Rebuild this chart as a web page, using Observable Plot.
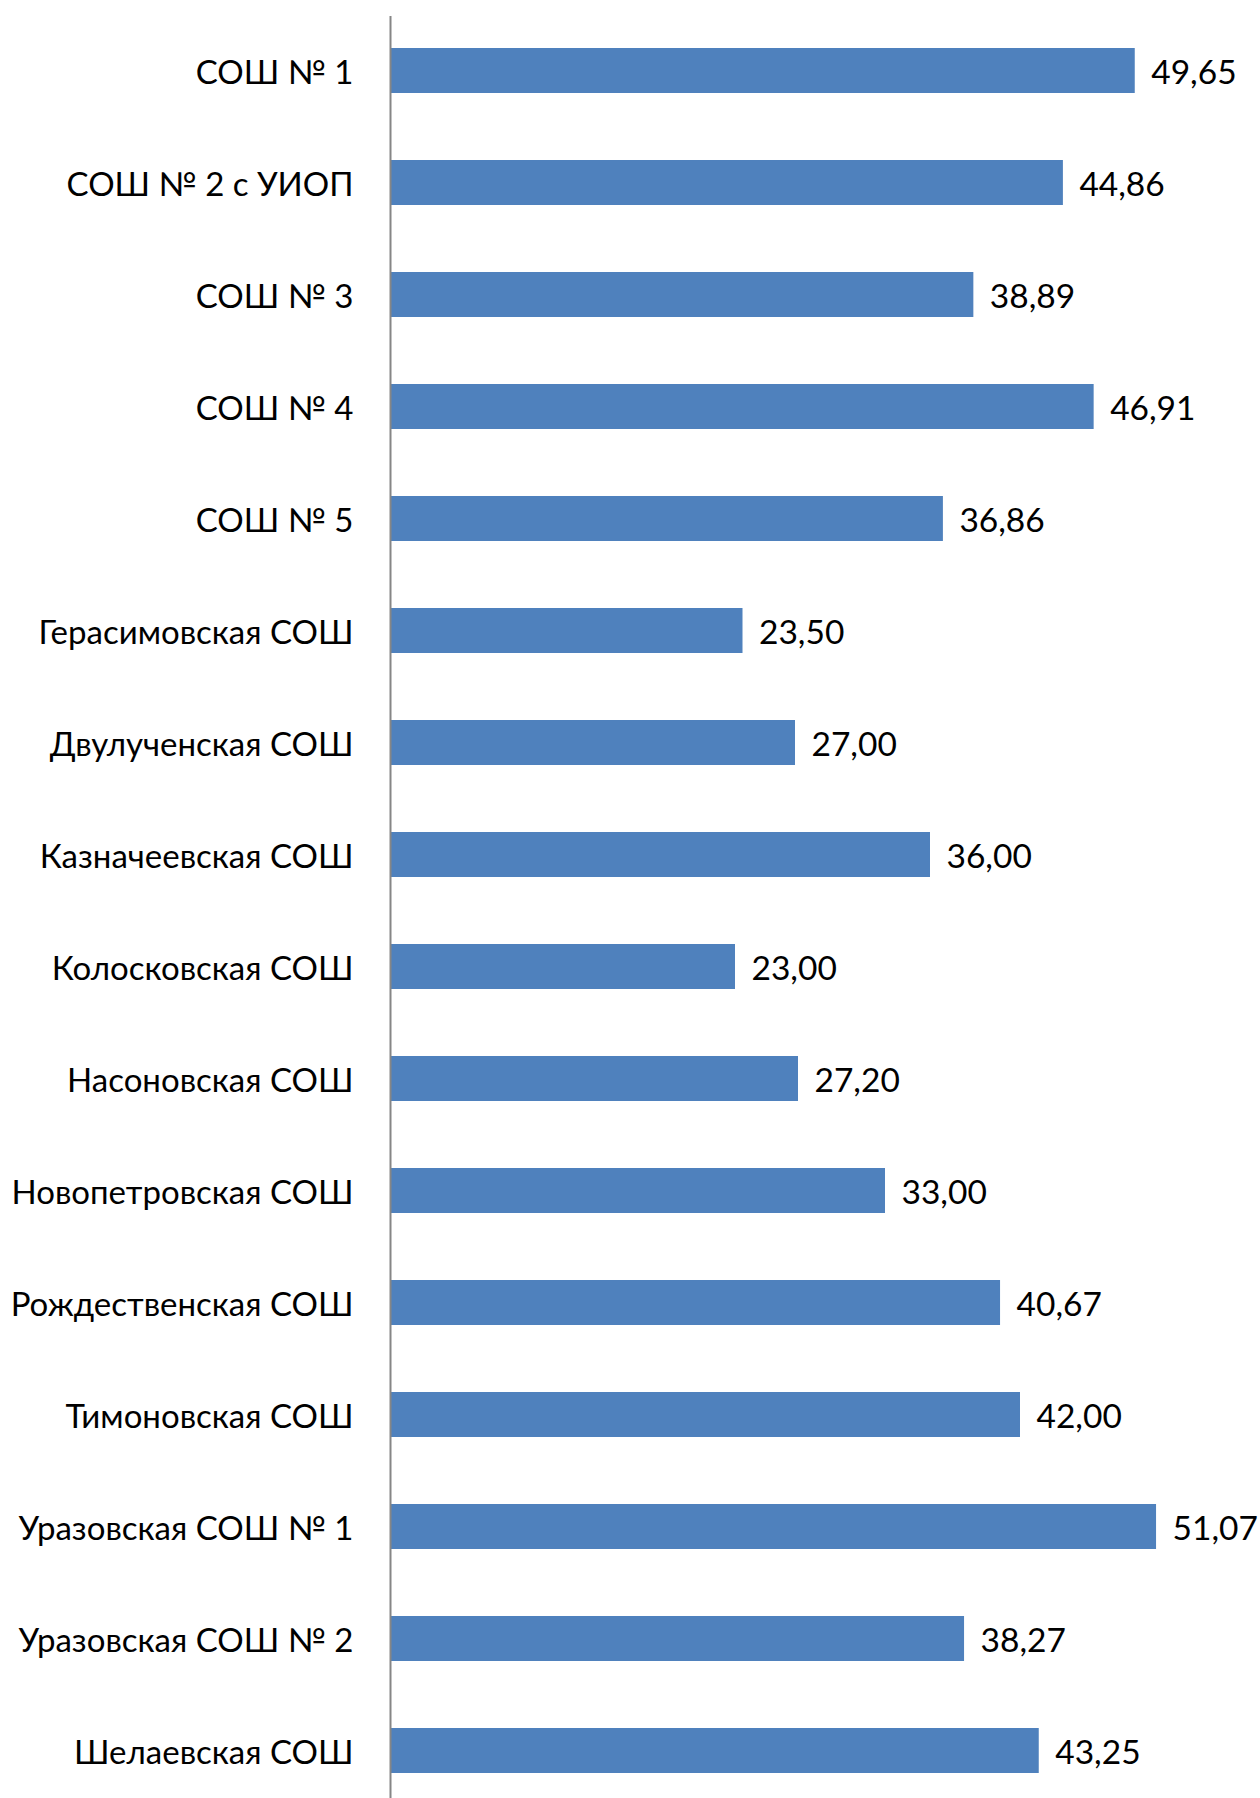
<!DOCTYPE html>
<html><head><meta charset="utf-8">
<script src="https://cdn.jsdelivr.net/npm/d3@7"></script>
<script src="https://cdn.jsdelivr.net/npm/@observablehq/plot@0.6"></script>
<style>body{margin:0;background:#fff}</style>
</head><body><div id="chart"></div>
<script>
const schools = [
  "СОШ № 1",
  "СОШ № 2 с УИОП",
  "СОШ № 3",
  "СОШ № 4",
  "СОШ № 5",
  "Герасимовская СОШ",
  "Двулученская СОШ",
  "Казначеевская СОШ",
  "Колосковская СОШ",
  "Насоновская СОШ",
  "Новопетровская СОШ",
  "Рождественская СОШ",
  "Тимоновская СОШ",
  "Уразовская СОШ № 1",
  "Уразовская СОШ № 2",
  "Шелаевская СОШ"
];
const values = [49.65, 44.86, 38.89, 46.91, 36.86, 23.50, 27.00, 36.00, 23.00, 27.20, 33.00, 40.67, 42.00, 51.07, 38.27, 43.25];

const data = schools.map((s, i) => ({school: s, value: values[i]}));
const fmt = v => v.toFixed(2).replace(".", ",");

const chart = Plot.plot({
  width: 1260, height: 1798,
  marginLeft: 390, marginRight: 0, marginTop: 16, marginBottom: 0,
  style: {fontFamily: "Lato", fontSize: "33px", background: "#fff", color: "#000"},
  x: {domain: [0, 58], axis: null},
  y: {domain: schools, range: [14, 1806], paddingInner: 0.6, paddingOuter: 0.3, axis: null},
  marks: [
    Plot.barX(data, {x: "value", y: "school", fill: "#4F81BD"}),
    Plot.ruleX([0], {stroke: "#868686", strokeWidth: 2}),
    Plot.axisY({tickSize: 0, tickPadding: 37, fontSize: 33, dy: 2.5, label: null, fill: "#000"}),
    Plot.text(data, {x: "value", y: "school", text: d => fmt(d.value), textAnchor: "start", dx: 16, dy: 2.5, fontSize: 33.5, fill: "#000"})
  ]
});
document.getElementById("chart").appendChild(chart);
</script>
</body></html>
